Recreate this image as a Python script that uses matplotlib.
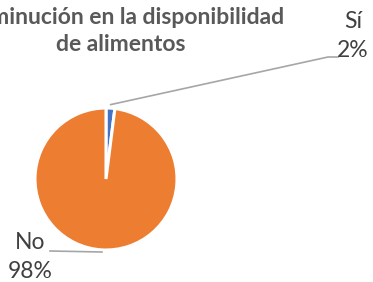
import numpy as np
import matplotlib.pyplot as plt

labels = ["Sí", "No"]
values = [2, 98]
colors = ["#4472C4", "#ED7D31"]
title = "Disminución en la disponibilidad\nde alimentos"

W, H = 373, 282
fig = plt.figure(figsize=(W / 100, H / 100), dpi=100)

# pie centre (106, 179) px, radius 71 px
cx, cy, r = 106, 179, 71
ax = fig.add_axes([(cx - r) / W, (H - cy - r) / H, 2 * r / W, 2 * r / H])
wedges, _ = ax.pie(values, colors=colors, startangle=90, counterclock=False,
                   radius=1, wedgeprops=dict(edgecolor="white", linewidth=2.2))
ax.set_xlim(-1, 1)
ax.set_ylim(-1, 1)
ax.set_aspect("equal")
ax.axis("off")

def px(x, y):
    # image pixel -> data coords
    return (x - cx) / r, (cy - y) / r

line_kw = dict(color="#A6A6A6", lw=1.2, clip_on=False)
txt_kw = dict(color="#404040", fontsize=16.5, family="Lato", clip_on=False)

# Sí label
w = wedges[0]
ang = np.deg2rad((w.theta1 + w.theta2) / 2)
sx, sy = 1.05 * np.cos(ang), 1.05 * np.sin(ang)
ex, ey = px(328, 57)
hx, hy = px(338, 57)
ax.plot([sx, ex, hx], [sy, ey, hy], **line_kw)
tx, ty = px(353, 36)
ax.text(tx, ty, f"{labels[0]}\n{values[0]}%", ha="center", va="center",
        linespacing=1.45, **txt_kw)

# No label
sx, sy = px(102, 252)
ex, ey = px(50, 251)
ax.plot([sx, ex], [sy, ey], **line_kw)
tx, ty = px(30, 257)
ax.text(tx, ty, f"{labels[1]}\n{values[1]}%", ha="center", va="center",
        linespacing=1.45, **txt_kw)

fig.text(121 / W, 1 - 31 / H, title, ha="center", va="center",
         fontsize=16.5, fontweight="bold", color="#595959", family="Lato",
         linespacing=1.35)

fig.savefig("out.png", dpi=100)
